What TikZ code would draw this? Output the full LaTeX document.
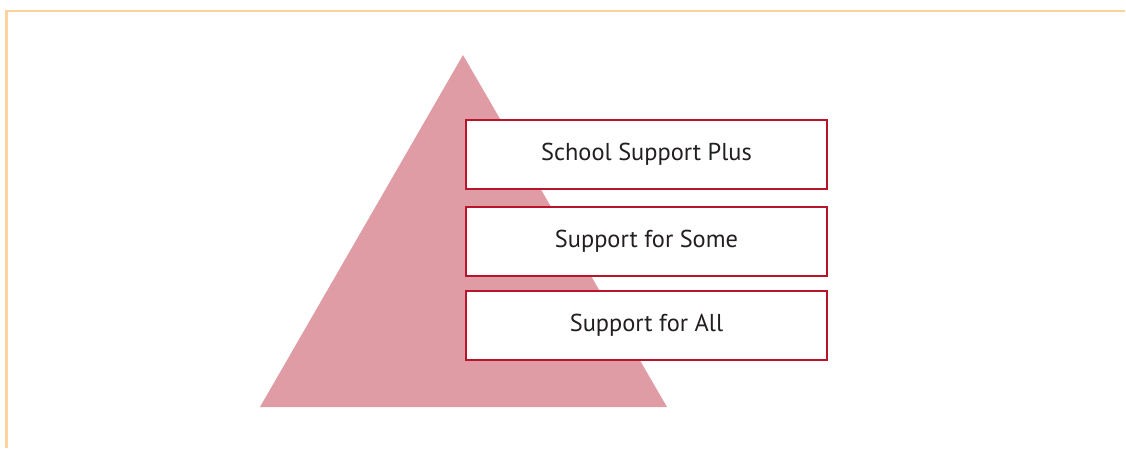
\documentclass[tikz,border=0pt]{standalone}
\usepackage{fontspec}
\setmainfont{PT Sans}
\definecolor{frame}{HTML}{FDD39C}
\definecolor{pyramid}{HTML}{DF9CA5}
\definecolor{boxred}{HTML}{B8142B}
\definecolor{ink}{HTML}{231F20}
\begin{document}
\begin{tikzpicture}[x=1pt, y=-1pt, font=\fontsize{24.4}{28}\selectfont, line join=miter,
	level/.style={draw=boxred, line width=2pt, fill=white, text=ink,
		minimum width=361pt, minimum height=69pt, inner sep=0pt}]
			\def \xmax{1126}
			\def \ymax{448}
			\useasboundingbox (0,0) rectangle (\xmax,\ymax);
			% frame
			\draw[frame, line width=2.2pt] (6.5,\ymax)--(6.5,11)--(1125,11);
			% pyramid
			\fill[pyramid] (260,407)--(463,55)--(667,407)--cycle;
			% levels
			\node[level] (plus) at (646.5,154.5) {School Support Plus};
			\node[level] (some) at (646.5,241) {Support for Some};
			\node[level] (all) at (646.5,325) {Support for All};
			\end{tikzpicture}
\end{document}
